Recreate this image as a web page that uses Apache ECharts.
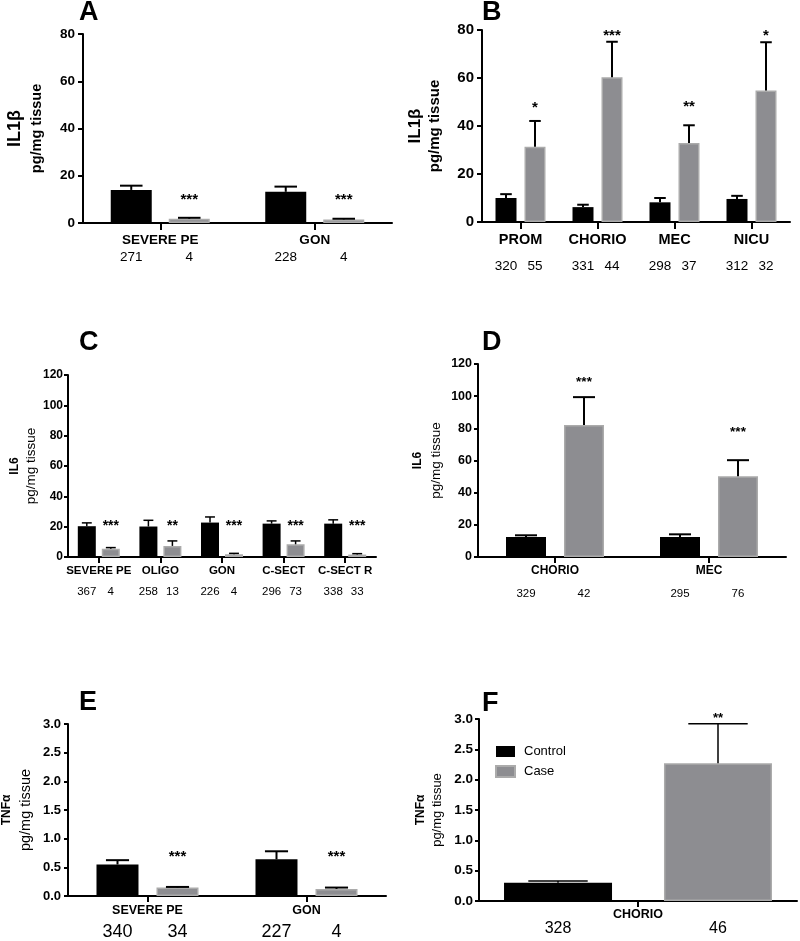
<!DOCTYPE html>
<html>
<head>
<meta charset="utf-8">
<script src="https://cdn.jsdelivr.net/npm/echarts@6/dist/echarts.min.js"></script>
<style>
  html, body { margin: 0; padding: 0; background: #fff; }
  #main { width: 800px; height: 941px; }
</style>
</head>
<body>
<div id="main"></div>
<script>
"use strict";

// ---- data ----
// A: IL1b, preeclampsia / GON
var aCats = ['SEVERE PE', 'GON'];
var aControl = [14.0, 13.2];
var aControlErr = [1.8, 2.2];
var aCase = [1.8, 1.5];
var aCaseErr = [0.4, 0.3];
var aNControl = [271, 228];
var aNCase = [4, 4];
var aStars = ['***', '***'];
var aStarLevel = [11.0, 11.0];

// B: IL1b, infection related
var bCats = ['PROM', 'CHORIO', 'MEC', 'NICU'];
var bControl = [10.0, 6.2, 8.2, 9.6];
var bControlErr = [1.6, 1.0, 1.8, 1.3];
var bCase = [31.4, 60.3, 32.9, 54.8];
var bCaseErr = [10.7, 14.8, 7.4, 20.1];
var bNControl = [320, 331, 298, 312];
var bNCase = [55, 44, 37, 32];
var bStars = ['*', '***', '**', '*'];
var bStarLevel = [48.8, 79.0, 49.1, 79.0];

// C: IL6
var cCats = ['SEVERE PE', 'OLIGO', 'GON', 'C-SECT', 'C-SECT R'];
var cControl = [20.3, 20.1, 22.7, 22.0, 22.0];
var cControlErr = [2.2, 4.1, 3.7, 1.8, 2.5];
var cCase = [5.5, 7.3, 1.8, 8.4, 1.6];
var cCaseErr = [0.7, 3.3, 0.6, 2.2, 0.6];
var cNControl = [367, 258, 226, 296, 338];
var cNCase = [4, 13, 4, 73, 33];
var cStars = ['***', '**', '***', '***', '***'];
var cStarLevel = [22.1, 22.1, 22.1, 22.1, 22.1];

// D: IL6
var dCats = ['CHORIO', 'MEC'];
var dControl = [12.5, 12.5];
var dControlErr = [1.0, 1.6];
var dCase = [82.0, 50.2];
var dCaseErr = [17.4, 10.0];
var dNControl = [329, 295];
var dNCase = [42, 76];
var dStars = ['***', '***'];
var dStarLevel = [110.6, 79.5];

// E: TNFa
var eCats = ['SEVERE PE', 'GON'];
var eControl = [0.55, 0.64];
var eControlErr = [0.075, 0.14];
var eCase = [0.147, 0.123];
var eCaseErr = [0.011, 0.024];
var eNControl = [340, 227];
var eNCase = [34, 4];
var eStars = ['***', '***'];
var eStarLevel = [0.742, 0.742];

// F: TNFa
var fCats = ['CHORIO'];
var fControl = [0.30];
var fControlErr = [0.03];
var fCase = [2.27];
var fCaseErr = [0.65];
var fNControl = [328];
var fNCase = [46];
var fStars = ['**'];
var fStarLevel = [3.06];

var FONT = 'Liberation Sans, Arial, Helvetica, sans-serif';
var CONTROL_COLOR = '#000000';
var CASE_COLOR = '#8d8d91';
var CASE_BORDER = '#ababab';

var panels = [
  { letter: 'A', lx: 79, ly: -1,
    grid: { left: 83, top: 34, width: 309, height: 189 },
    yMax: 80, yStep: 20, yDec: 0, yName: ['IL1β', 'pg/mg tissue'], nameGap: 36,
    name1Size: 18, nameSize: 14.5, nameLH: 21, name2Bold: true,
    yLabelSize: 13.5, yMargin: 8, yTick: 5, xLabelSize: 13.5, xMargin: 10, xTick: 7,
    barWidth: 41, barGap: 17, errW: 2, nSize: 13.5, nDist: 27, starSize: 15,
    cats: aCats, control: aControl, controlErr: aControlErr, caseV: aCase, caseErr: aCaseErr,
    nControl: aNControl, nCase: aNCase, stars: aStars, starLevel: aStarLevel },
  { letter: 'B', lx: 482, ly: -1,
    grid: { left: 482, top: 30, width: 308, height: 192 },
    yMax: 80, yStep: 20, yDec: 0, yName: ['IL1β', 'pg/mg tissue'], nameGap: 37,
    name1Size: 17, nameSize: 15, nameLH: 20, name2Bold: true,
    yLabelSize: 15, yMargin: 8, yTick: 5, xLabelSize: 14.5, xMargin: 10, xTick: 7,
    barWidth: 21, barGap: 8, errW: 2, nSize: 13.5, nDist: 37, starSize: 15,
    cats: bCats, control: bControl, controlErr: bControlErr, caseV: bCase, caseErr: bCaseErr,
    nControl: bNControl, nCase: bNCase, stars: bStars, starLevel: bStarLevel },
  { letter: 'C', lx: 79, ly: 329,
    grid: { left: 68, top: 375, width: 308, height: 182 },
    yMax: 120, yStep: 20, yDec: 0, yName: ['IL6', 'pg/mg tissue'], nameGap: 28,
    name1Size: 12, nameSize: 13.5, nameLH: 17, name2Bold: false,
    yLabelSize: 12, yMargin: 5, yTick: 4, xLabelSize: 11.5, xMargin: 8, xTick: 6,
    barWidth: 18, barGap: 6, errW: 1.5, nSize: 11.5, nDist: 29, starSize: 14,
    cats: cCats, control: cControl, controlErr: cControlErr, caseV: cCase, caseErr: cCaseErr,
    nControl: cNControl, nCase: cNCase, stars: cStars, starLevel: cStarLevel },
  { letter: 'D', lx: 482, ly: 329,
    grid: { left: 478, top: 364, width: 308, height: 193 },
    yMax: 120, yStep: 20, yDec: 0, yName: ['IL6', 'pg/mg tissue'], nameGap: 32,
    name1Size: 12, nameSize: 13.5, nameLH: 19, name2Bold: false,
    yLabelSize: 12.5, yMargin: 6, yTick: 4, xLabelSize: 12, xMargin: 8, xTick: 6,
    barWidth: 40, barGap: 18, errW: 2, nSize: 11.5, nDist: 31, starSize: 13.5,
    cats: dCats, control: dControl, controlErr: dControlErr, caseV: dCase, caseErr: dCaseErr,
    nControl: dNControl, nCase: dNCase, stars: dStars, starLevel: dStarLevel },
  { letter: 'E', lx: 79, ly: 689,
    grid: { left: 68, top: 724, width: 318, height: 172 },
    yMax: 3, yStep: 0.5, yDec: 1, yName: ['TNFα', 'pg/mg tissue'], nameGap: 33,
    name1Size: 12, nameSize: 14.5, nameLH: 19, name2Bold: false,
    yLabelSize: 13, yMargin: 7, yTick: 4, xLabelSize: 12.5, xMargin: 8, xTick: 6,
    barWidth: 42, barGap: 18, errW: 2, nSize: 18, nDist: 27, starSize: 15,
    cats: eCats, control: eControl, controlErr: eControlErr, caseV: eCase, caseErr: eCaseErr,
    nControl: eNControl, nCase: eNCase, stars: eStars, starLevel: eStarLevel },
  { letter: 'F', lx: 482, ly: 690,
    grid: { left: 479, top: 719, width: 318, height: 182 },
    yMax: 3, yStep: 0.5, yDec: 1, yName: ['TNFα', 'pg/mg tissue'], nameGap: 33,
    name1Size: 12, nameSize: 13, nameLH: 17, name2Bold: false,
    yLabelSize: 13.5, yMargin: 6, yTick: 4, xLabelSize: 12.5, xMargin: 7, xTick: 6,
    barWidth: 108, barGap: 52, errW: 1.5, nSize: 16, nDist: 20, starSize: 13,
    cats: fCats, control: fControl, controlErr: fControlErr, caseV: fCase, caseErr: fCaseErr,
    nControl: fNControl, nCase: fNCase, stars: fStars, starLevel: fStarLevel }
];

var option = {
  backgroundColor: '#fff',
  animation: false,
  textStyle: { fontFamily: FONT },
  title: [],
  grid: [],
  xAxis: [],
  yAxis: [],
  series: [],
  legend: {
    data: ['Control', 'Case'],
    orient: 'vertical',
    left: 495, top: 745,
    itemWidth: 19, itemHeight: 11, itemGap: 7,
    icon: 'rect',
    padding: 0,
    selectedMode: false,
    textStyle: { fontFamily: FONT, fontSize: 13, color: '#000', padding: [0, 0, 0, 4] }
  }
};

function errRenderer(p, items) {
  var half = (p.barWidth + p.barGap) / 2;
  var cap = p.barWidth * 0.55;
  return function (params, api) {
    var it = items[params.dataIndex];
    var base = api.coord([it.cat, it.mean]);
    var top = api.coord([it.cat, it.mean + it.err]);
    var x = base[0] + it.side * half;
    var lineStyle = { stroke: '#000', lineWidth: p.errW };
    var children = [
      { type: 'line', shape: { x1: x, y1: base[1], x2: x, y2: top[1] }, style: lineStyle },
      { type: 'line', shape: { x1: x - cap / 2, y1: top[1], x2: x + cap / 2, y2: top[1] }, style: lineStyle }
    ];
    if (it.star) {
      var sy = api.coord([it.cat, it.level])[1];
      children.push({
        type: 'text', x: x, y: sy + 3,
        style: { text: it.star, textAlign: 'center', textVerticalAlign: 'middle',
                 font: 'bold ' + p.starSize + 'px ' + FONT, fill: '#000' }
      });
    }
    return { type: 'group', children: children };
  };
}

panels.forEach(function (p, k) {
  option.title.push({
    text: p.letter, left: p.lx, top: p.ly, padding: 0,
    textStyle: { fontFamily: FONT, fontSize: 27, fontWeight: 'bold', color: '#000' }
  });
  option.grid.push({
    left: p.grid.left, top: p.grid.top, width: p.grid.width, height: p.grid.height,
    outerBoundsMode: 'none'
  });
  option.xAxis.push({
    type: 'category', gridIndex: k, data: p.cats,
    axisLine: { lineStyle: { color: '#000', width: 2 } },
    axisTick: { show: p.xTick > 0, alignWithLabel: true, length: p.xTick, lineStyle: { color: '#000', width: 2 } },
    axisLabel: { interval: 0, margin: p.xMargin, color: '#000', fontFamily: FONT, fontWeight: 'bold', fontSize: p.xLabelSize },
    splitLine: { show: false }
  });
  option.yAxis.push({
    type: 'value', gridIndex: k, min: 0, max: p.yMax, interval: p.yStep,
    name: '{a|' + p.yName[0] + '}\n{b|' + p.yName[1] + '}',
    nameLocation: 'middle', nameRotate: 90, nameGap: p.nameGap,
    nameTextStyle: {
      rich: {
        a: { fontFamily: FONT, fontWeight: 'bold', fontSize: p.name1Size, lineHeight: p.nameLH, color: '#000' },
        b: { fontFamily: FONT, fontWeight: p.name2Bold ? 'bold' : 'normal', fontSize: p.nameSize, lineHeight: p.nameLH, color: '#000' }
      }
    },
    axisLine: { show: true, lineStyle: { color: '#000', width: 2 } },
    axisTick: { show: true, length: p.yTick, lineStyle: { color: '#000', width: 2 } },
    axisLabel: {
      margin: p.yMargin, color: '#000', fontFamily: FONT, fontWeight: 'bold', fontSize: p.yLabelSize,
      formatter: function (v) { return v.toFixed(p.yDec); }
    },
    splitLine: { show: false }
  });

  var gapPct = (p.barGap / p.barWidth * 100).toFixed(1) + '%';
  option.series.push({
    name: 'Control', type: 'bar', xAxisIndex: k, yAxisIndex: k,
    data: p.control, barWidth: p.barWidth, barGap: gapPct,
    itemStyle: { color: CONTROL_COLOR },
    label: {
      show: true, position: 'bottom', distance: p.nDist, color: '#000',
      fontFamily: FONT, fontSize: p.nSize,
      formatter: function (d) { return String(p.nControl[d.dataIndex]); }
    }
  });
  option.series.push({
    name: 'Case', type: 'bar', xAxisIndex: k, yAxisIndex: k,
    data: p.caseV, barWidth: p.barWidth, barGap: gapPct,
    itemStyle: { color: CASE_COLOR, borderColor: CASE_BORDER, borderWidth: 1.5 },
    label: {
      show: true, position: 'bottom', distance: p.nDist, color: '#000',
      fontFamily: FONT, fontSize: p.nSize,
      formatter: function (d) { return String(p.nCase[d.dataIndex]); }
    }
  });

  var items = [];
  p.cats.forEach(function (c, i) {
    items.push({ cat: i, mean: p.control[i], err: p.controlErr[i], side: -1, star: null });
    items.push({ cat: i, mean: p.caseV[i], err: p.caseErr[i], side: 1, star: p.stars[i], level: p.starLevel[i] });
  });
  option.series.push({
    type: 'custom', xAxisIndex: k, yAxisIndex: k, z: 5, silent: true,
    renderItem: errRenderer(p, items),
    encode: { x: 0, y: 1 },
    data: items.map(function (it) { return [it.cat, it.mean + it.err]; })
  });
});

var chart = echarts.init(document.getElementById('main'), null, { renderer: 'canvas' });
chart.setOption(option);
</script>
</body>
</html>
